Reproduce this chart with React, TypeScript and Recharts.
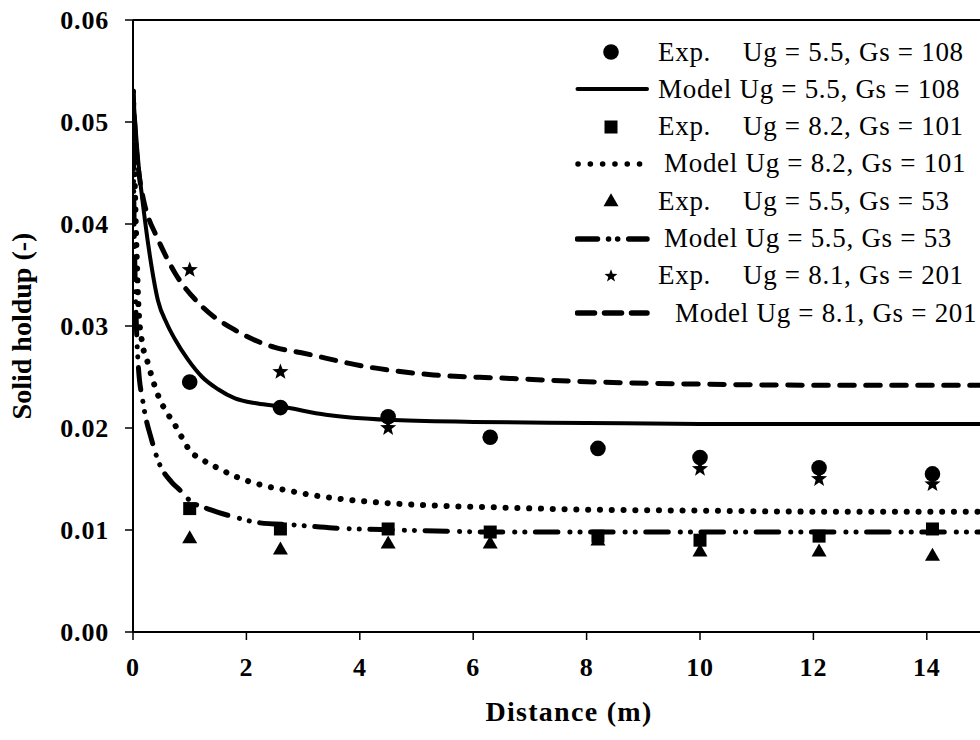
import {
  ComposedChart,
  Line,
  Scatter,
  XAxis,
  YAxis,
  ReferenceLine,
} from "recharts";

// distance (m) vs solid holdup (-)
const xTicks = [0, 2, 4, 6, 8, 10, 12, 14];
const yTicks = [0, 0.01, 0.02, 0.03, 0.04, 0.05, 0.06];

const expUg55Gs108 = [
  { x: 1.0, y: 0.0245 },
  { x: 2.6, y: 0.022 },
  { x: 4.5, y: 0.0211 },
  { x: 6.3, y: 0.0191 },
  { x: 8.2, y: 0.018 },
  { x: 10.0, y: 0.0171 },
  { x: 12.1, y: 0.0161 },
  { x: 14.1, y: 0.0155 },
];

const expUg82Gs101 = [
  { x: 1.0, y: 0.0121 },
  { x: 2.6, y: 0.0101 },
  { x: 4.5, y: 0.0101 },
  { x: 6.3, y: 0.0098 },
  { x: 8.2, y: 0.0094 },
  { x: 10.0, y: 0.009 },
  { x: 12.1, y: 0.0094 },
  { x: 14.1, y: 0.0101 },
];

const expUg55Gs53 = [
  { x: 1.0, y: 0.0092 },
  { x: 2.6, y: 0.0081 },
  { x: 4.5, y: 0.0087 },
  { x: 6.3, y: 0.0087 },
  { x: 8.2, y: 0.009 },
  { x: 10.0, y: 0.0079 },
  { x: 12.1, y: 0.0079 },
  { x: 14.1, y: 0.0075 },
];

const expUg81Gs201 = [
  { x: 1.0, y: 0.0355 },
  { x: 2.6, y: 0.0255 },
  { x: 4.5, y: 0.02 },
  { x: 10.0, y: 0.016 },
  { x: 12.1, y: 0.015 },
  { x: 14.1, y: 0.0145 },
];

const modelUg55Gs108 = [
  { x: 0, y: 0.053 },
  { x: 0.09, y: 0.0463 },
  { x: 0.21, y: 0.0404 },
  { x: 0.3, y: 0.0368 },
  { x: 0.44, y: 0.0325 },
  { x: 0.6, y: 0.0302 },
  { x: 0.74, y: 0.0287 },
  { x: 0.97, y: 0.0267 },
  { x: 1.22, y: 0.025 },
  { x: 1.5, y: 0.0238 },
  { x: 1.8, y: 0.0229 },
  { x: 2.2, y: 0.0224 },
  { x: 2.6, y: 0.0221 },
  { x: 3.4, y: 0.0213 },
  { x: 4.5, y: 0.0208 },
  { x: 6, y: 0.0206 },
  { x: 8, y: 0.0205 },
  { x: 10, y: 0.0204 },
  { x: 15, y: 0.0204 },
];

const modelUg82Gs101 = [
  { x: 0, y: 0.053 },
  { x: 0.02, y: 0.047 },
  { x: 0.04, y: 0.042 },
  { x: 0.07, y: 0.036 },
  { x: 0.1, y: 0.0315 },
  { x: 0.15, y: 0.0288 },
  { x: 0.26, y: 0.0264 },
  { x: 0.48, y: 0.0227 },
  { x: 0.6, y: 0.0215 },
  { x: 0.74, y: 0.0203 },
  { x: 0.86, y: 0.0191 },
  { x: 1.0, y: 0.0178 },
  { x: 1.22, y: 0.0169 },
  { x: 1.45, y: 0.0162 },
  { x: 1.83, y: 0.0152 },
  { x: 2.27, y: 0.0144 },
  { x: 2.7, y: 0.0139 },
  { x: 3.3, y: 0.0133 },
  { x: 4.1, y: 0.0128 },
  { x: 5.3, y: 0.0124 },
  { x: 6.5, y: 0.0122 },
  { x: 8, y: 0.012 },
  { x: 10, y: 0.0119 },
  { x: 12, y: 0.0118 },
  { x: 15, y: 0.0118 },
];

const modelUg55Gs53 = [
  { x: 0, y: 0.053 },
  { x: 0.01, y: 0.045 },
  { x: 0.02, y: 0.04 },
  { x: 0.04, y: 0.034 },
  { x: 0.06, y: 0.03 },
  { x: 0.09, y: 0.0264 },
  { x: 0.18, y: 0.0224 },
  { x: 0.33, y: 0.0188 },
  { x: 0.45, y: 0.0167 },
  { x: 0.68, y: 0.0147 },
  { x: 0.83, y: 0.0139 },
  { x: 1.0, y: 0.0129 },
  { x: 1.36, y: 0.012 },
  { x: 1.77, y: 0.0113 },
  { x: 2.24, y: 0.0107 },
  { x: 2.83, y: 0.0105 },
  { x: 3.53, y: 0.0102 },
  { x: 4.7, y: 0.01 },
  { x: 6.47, y: 0.0098 },
  { x: 10, y: 0.0098 },
  { x: 15, y: 0.0098 },
];

const modelUg81Gs201 = [
  { x: 0, y: 0.053 },
  { x: 0.05, y: 0.048 },
  { x: 0.1, y: 0.0452 },
  { x: 0.18, y: 0.0425 },
  { x: 0.28, y: 0.0405 },
  { x: 0.39, y: 0.0391 },
  { x: 0.74, y: 0.0352 },
  { x: 1.22, y: 0.0319 },
  { x: 1.8, y: 0.0296 },
  { x: 2.5, y: 0.0279 },
  { x: 2.95, y: 0.0274 },
  { x: 4.13, y: 0.026 },
  { x: 5.3, y: 0.0252 },
  { x: 6.47, y: 0.0249 },
  { x: 8.24, y: 0.0245 },
  { x: 10, y: 0.0243 },
  { x: 12, y: 0.0242 },
  { x: 15, y: 0.0242 },
];

const FONT = "Times New Roman, Liberation Serif, DejaVu Serif, serif";
const DOTTED = "0.1 11.7";
const DASHED = "14.5 11.5";
const DASH_DOT = "22.5 12 0.1 10 0.1 10.5";

type MarkerKind = "circle" | "square" | "triangle" | "star";

function starPoints(cx: number, cy: number, r: number) {
  const pts: string[] = [];
  for (let i = 0; i < 10; i++) {
    const rad = i % 2 === 0 ? r : r * 0.42;
    const a = -Math.PI / 2 + (i * Math.PI) / 5;
    pts.push(`${cx + rad * Math.cos(a)},${cy + rad * Math.sin(a)}`);
  }
  return pts.join(" ");
}

function Marker({ kind, cx, cy, scale = 1 }: { kind: MarkerKind; cx: number; cy: number; scale?: number }) {
  if (kind === "circle") return <circle cx={cx} cy={cy} r={7.8 * scale} fill="#000" />;
  if (kind === "square") {
    const s = 13 * scale;
    return <rect x={cx - s / 2} y={cy - s / 2} width={s} height={s} fill="#000" />;
  }
  if (kind === "triangle") {
    const w = 15 * scale;
    const h = 13 * scale;
    return (
      <polygon
        points={`${cx},${cy - h * 0.6} ${cx + w / 2},${cy + h * 0.4} ${cx - w / 2},${cy + h * 0.4}`}
        fill="#000"
      />
    );
  }
  return <polygon points={starPoints(cx, cy, 8.5 * scale)} fill="#000" />;
}

const shapeFor = (kind: MarkerKind) => (props: any) => (
  <Marker kind={kind} cx={props.cx} cy={props.cy} />
);

type LegendRow = {
  icon: MarkerKind | "solid" | "dotted" | "dashdot" | "dashed";
  prefix: string;
  text: string;
  indent: number;
};

const legendRows: LegendRow[] = [
  { icon: "circle", prefix: "Exp.", text: "Ug = 5.5, Gs = 108", indent: 8 },
  { icon: "solid", prefix: "", text: "Model Ug = 5.5, Gs = 108", indent: 8 },
  { icon: "square", prefix: "Exp.", text: "Ug = 8.2, Gs = 101", indent: 8 },
  { icon: "dotted", prefix: "", text: "Model Ug = 8.2, Gs = 101", indent: 14 },
  { icon: "triangle", prefix: "Exp.", text: "Ug = 5.5, Gs = 53", indent: 8 },
  { icon: "dashdot", prefix: "", text: "Model Ug = 5.5, Gs = 53", indent: 14 },
  { icon: "star", prefix: "Exp.", text: "Ug = 8.1, Gs = 201", indent: 8 },
  { icon: "dashed", prefix: "", text: "Model Ug = 8.1, Gs = 201", indent: 25 },
];

function LegendIcon({ icon }: { icon: LegendRow["icon"] }) {
  const isLine = icon === "solid" || icon === "dotted" || icon === "dashdot" || icon === "dashed";
  const dash =
    icon === "dotted" ? "0.1 12.2" : icon === "dashed" ? "17 10" : icon === "dashdot" ? "20 11 0.1 9 0.1 11" : undefined;
  return (
    <svg width={75} height={20} style={{ display: "block" }}>
      {isLine ? (
        <line
          x1={icon === "dotted" ? 3 : 2.5}
          x2={icon === "dotted" ? 66 : 72}
          y1={10}
          y2={10}
          stroke="#000"
          strokeWidth={icon === "solid" ? 4 : 5.5}
          strokeLinecap="round"
          strokeDasharray={dash}
        />
      ) : (
        <Marker kind={icon as MarkerKind} cx={36} cy={10} scale={icon === "star" ? 0.8 : 1} />
      )}
    </svg>
  );
}

export default function App() {
  const tickStyle = { fill: "#000", fontSize: 26, fontWeight: 700, fontFamily: FONT, letterSpacing: 0.8 };
  return (
    <div
      style={{
        position: "fixed",
        left: 0,
        top: 0,
        width: 980,
        height: 740,
        overflow: "hidden",
        background: "#fff",
        fontFamily: FONT,
      }}
    >
      <ComposedChart
        width={990}
        height={740}
        margin={{ top: 20, right: 6.5, bottom: 48, left: 0 }}
      >
        <XAxis
          type="number"
          dataKey="x"
          domain={[0, 15]}
          ticks={xTicks}
          allowDataOverflow
          height={60}
          tickSize={8}
          tickMargin={18}
          axisLine={{ stroke: "#000", strokeWidth: 2 }}
          tickLine={{ stroke: "#000", strokeWidth: 1.5 }}
          tick={tickStyle}
        />
        <YAxis
          type="number"
          dataKey="y"
          domain={[0, 0.06]}
          ticks={yTicks}
          allowDataOverflow
          width={133}
          tickSize={8}
          tickMargin={16}
          tickFormatter={(v: number) => v.toFixed(2)}
          axisLine={{ stroke: "#000", strokeWidth: 2 }}
          tickLine={{ stroke: "#000", strokeWidth: 1.5 }}
          tick={tickStyle}
        />
        <ReferenceLine y={0.06} stroke="#000" strokeWidth={2} />

        <Line
          data={modelUg55Gs108}
          dataKey="y"
          type="monotone"
          stroke="#000"
          strokeWidth={4}
          dot={false}
          activeDot={false}
          isAnimationActive={false}
        />
        <Line
          data={modelUg82Gs101}
          dataKey="y"
          type="monotone"
          stroke="#000"
          strokeWidth={6}
          strokeLinecap="round"
          strokeDasharray={DOTTED}
          dot={false}
          activeDot={false}
          isAnimationActive={false}
        />
        <Line
          data={modelUg55Gs53}
          dataKey="y"
          type="monotone"
          stroke="#000"
          strokeWidth={5}
          strokeLinecap="round"
          strokeDasharray={DASH_DOT}
          dot={false}
          activeDot={false}
          isAnimationActive={false}
        />
        <Line
          data={modelUg81Gs201}
          dataKey="y"
          type="monotone"
          stroke="#000"
          strokeWidth={5}
          strokeLinecap="round"
          strokeDasharray={DASHED}
          dot={false}
          activeDot={false}
          isAnimationActive={false}
        />

        <Scatter data={expUg55Gs108} dataKey="y" shape={shapeFor("circle")} isAnimationActive={false} />
        <Scatter data={expUg82Gs101} dataKey="y" shape={shapeFor("square")} isAnimationActive={false} />
        <Scatter data={expUg55Gs53} dataKey="y" shape={shapeFor("triangle")} isAnimationActive={false} />
        <Scatter data={expUg81Gs201} dataKey="y" shape={shapeFor("star")} isAnimationActive={false} />
      </ComposedChart>

      <div
        style={{
          position: "absolute",
          left: 569,
          top: 712,
          transform: "translate(-50%, -50%)",
          fontSize: 28,
          fontWeight: 700,
          letterSpacing: 1.3,
          whiteSpace: "nowrap",
        }}
      >
        Distance (m)
      </div>
      <div
        style={{
          position: "absolute",
          left: 22,
          top: 326,
          transform: "translate(-50%, -50%) rotate(-90deg)",
          fontSize: 28,
          fontWeight: 700,
          whiteSpace: "nowrap",
        }}
      >
        Solid holdup (-)
      </div>

      <div style={{ position: "absolute", left: 575, top: 33.4 }}>
        {legendRows.map((row) => (
          <div
            key={row.text + row.icon}
            style={{ display: "flex", alignItems: "center", height: 37.3, fontSize: 27, whiteSpace: "nowrap" }}
          >
            <LegendIcon icon={row.icon} />
            <span style={{ marginLeft: row.indent, letterSpacing: 0.7 }}>
              {row.prefix && <span style={{ display: "inline-block", width: 85 }}>{row.prefix}</span>}
              {row.text}
            </span>
          </div>
        ))}
      </div>
    </div>
  );
}
